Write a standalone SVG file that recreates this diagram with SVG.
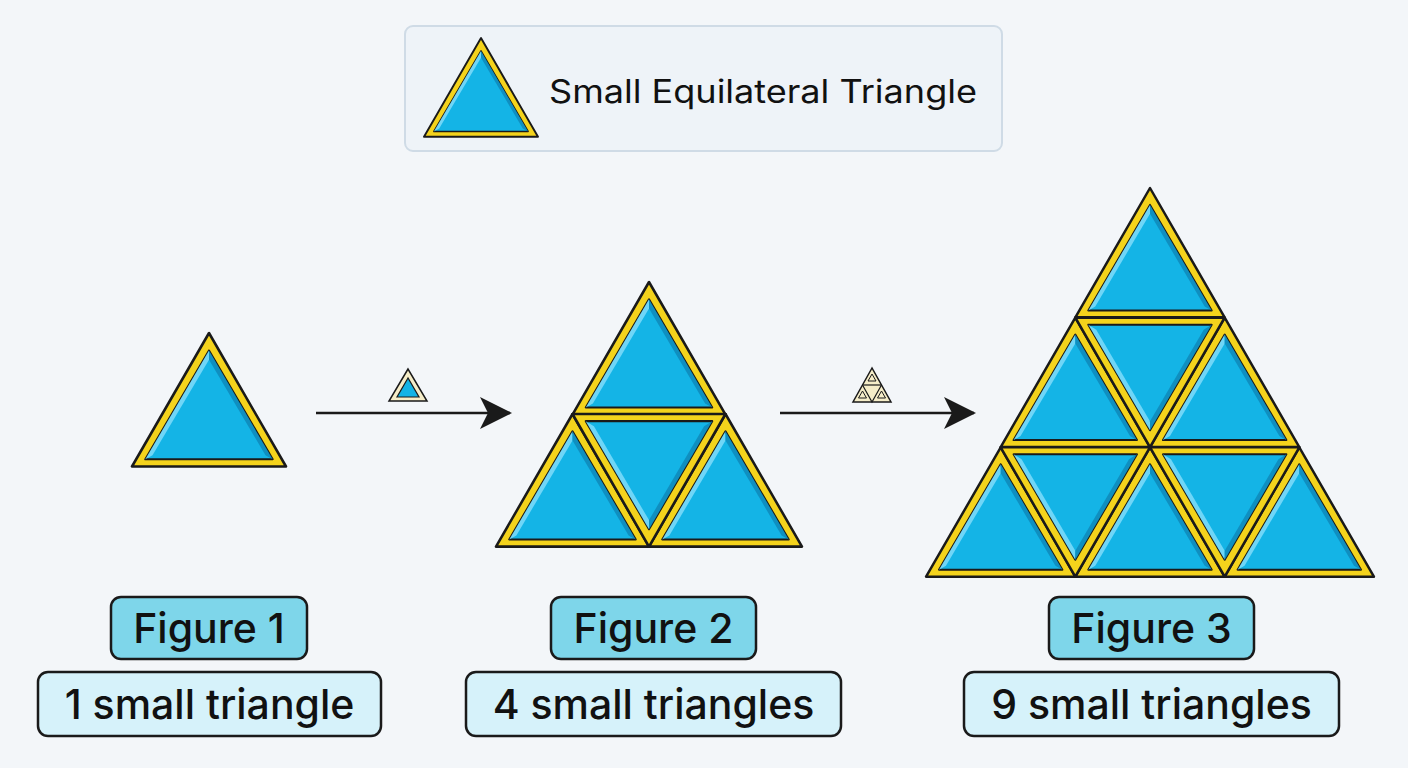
<svg xmlns="http://www.w3.org/2000/svg" xmlns:xlink="http://www.w3.org/1999/xlink" width="1408" height="768" viewBox="0 0 1408 768">
<style>
.o{fill:#f4d31c;stroke:#1a1a1a;stroke-width:2.5;stroke-linejoin:round}
.i{fill:#14b4e6;stroke:#1a1a1a;stroke-width:2;stroke-linejoin:round}
.hl{fill:#6fd6f7}
.sh{fill:#0f8fc0}
.t{font-family:Inter,"Liberation Sans",Arial,sans-serif;fill:#111}
.lb{font-weight:500}
.b1{fill:#7ed6ea;stroke:#1a1a1a;stroke-width:2.5}
.b2{fill:#d6f2fa;stroke:#1a1a1a;stroke-width:2.5}
.ic{fill:#f5edc8;stroke:#1a1a1a;stroke-width:1.5}
</style>
<defs>
<g id="up">
<polygon class="o" points="0,0 -75,130 75,130"/>
<polygon class="i" points="0,17 -62,123 62,123"/>
<polygon class="hl" points="0,17 -62,123 -55,119 0,26"/>
<polygon class="sh" points="0,17 62,123 55,119 0,26"/>
</g>
<g id="dn">
<polygon class="o" points="-75,0 75,0 0,130"/>
<polygon class="i" points="-62,7 62,7 0,113"/>
<polygon class="hl" points="-62,7 0,113 0,104 -54,12"/>
<polygon class="sh" points="62,7 0,113 0,104 54,12"/>
</g>
<marker id="ah" markerWidth="32" markerHeight="32" refX="30" refY="16" orient="auto" markerUnits="userSpaceOnUse"><path d="M0,0 L32,16 L0,32 L8,16 Z" fill="#1a1a1a"/></marker>
</defs>
<rect width="1408" height="768" fill="#f3f6f9"/>
<g id="legend">
<rect x="405" y="26" width="597" height="125" rx="8" fill="#eef3f8" stroke="#cfdbe6" stroke-width="2"/>
<use xlink:href="#up" transform="translate(481,38) scale(0.76)"/>
<text class="t" x="549" y="103" font-size="32" textLength="428" lengthAdjust="spacingAndGlyphs">Small Equilateral Triangle</text>
</g>
<g id="fig1">
<use xlink:href="#up" transform="translate(209,333) scale(1.027)"/>
</g>
<g id="fig2">
<use xlink:href="#up" transform="translate(649,282) scale(1.02)"/>
<use xlink:href="#up" transform="translate(572.5,414) scale(1.02)"/>
<use xlink:href="#up" transform="translate(725.5,414) scale(1.02)"/>
<use xlink:href="#dn" transform="translate(649,414) scale(1.02)"/>
</g>
<g id="fig3">
<use xlink:href="#up" transform="translate(1150,188) scale(0.995)"/>
<use xlink:href="#up" transform="translate(1075.3,317.7) scale(0.995)"/>
<use xlink:href="#up" transform="translate(1224.7,317.7) scale(0.995)"/>
<use xlink:href="#dn" transform="translate(1150,317.7) scale(0.995)"/>
<use xlink:href="#up" transform="translate(1000.7,447.3) scale(0.995)"/>
<use xlink:href="#up" transform="translate(1150,447.3) scale(0.995)"/>
<use xlink:href="#up" transform="translate(1299.3,447.3) scale(0.995)"/>
<use xlink:href="#dn" transform="translate(1075.3,447.3) scale(0.995)"/>
<use xlink:href="#dn" transform="translate(1224.7,447.3) scale(0.995)"/>
</g>
<g id="connectors">
<line x1="316" y1="413" x2="510" y2="413" stroke="#1a1a1a" stroke-width="2.5" marker-end="url(#ah)"/>
<line x1="780" y1="413" x2="974" y2="413" stroke="#1a1a1a" stroke-width="2.5" marker-end="url(#ah)"/>
<polygon class="ic" points="408,369 389,401 427,401"/>
<polygon points="408,378 397,397 419,397" fill="#14b4e6" stroke="#1a1a1a" stroke-width="1.2"/>
<polygon class="ic" points="872,368 853,402 891,402"/>
<line x1="862.5" y1="385" x2="881.5" y2="385" stroke="#1a1a1a" stroke-width="1.2"/>
<polyline points="862.5,385 872,402 881.5,385" fill="none" stroke="#1a1a1a" stroke-width="1.2"/>
<polygon points="872,374 868,381 876,381" fill="none" stroke="#1a1a1a" stroke-width="1"/>
<polygon points="862.5,391 858.5,398 866.5,398" fill="none" stroke="#1a1a1a" stroke-width="1"/>
<polygon points="881.5,391 877.5,398 885.5,398" fill="none" stroke="#1a1a1a" stroke-width="1"/>
</g>
<g id="label1">
<rect class="b1" x="111" y="597" width="196" height="62" rx="10"/>
<text class="t lb" x="209" y="643" font-size="41" text-anchor="middle">Figure 1</text>
<rect class="b2" x="38" y="672" width="343" height="64" rx="10"/>
<text class="t lb" x="209.5" y="719" font-size="41" text-anchor="middle">1 small triangle</text>
</g>
<g id="label2">
<rect class="b1" x="551" y="597" width="205" height="62" rx="10"/>
<text class="t lb" x="653.5" y="643" font-size="41" text-anchor="middle">Figure 2</text>
<rect class="b2" x="466" y="672" width="375" height="64" rx="10"/>
<text class="t lb" x="653.5" y="719" font-size="41" text-anchor="middle">4 small triangles</text>
</g>
<g id="label3">
<rect class="b1" x="1049" y="597" width="205" height="62" rx="10"/>
<text class="t lb" x="1151.5" y="643" font-size="41" text-anchor="middle">Figure 3</text>
<rect class="b2" x="964" y="672" width="375" height="64" rx="10"/>
<text class="t lb" x="1151.5" y="719" font-size="41" text-anchor="middle">9 small triangles</text>
</g>
</svg>
